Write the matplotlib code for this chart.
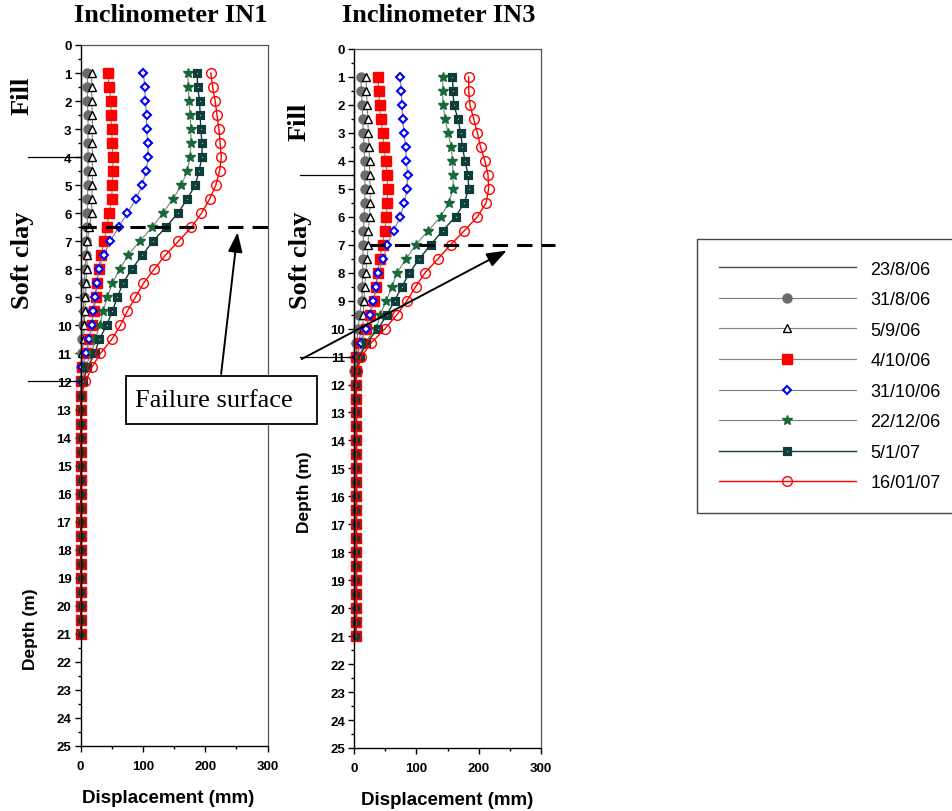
import matplotlib.pyplot as plt
from matplotlib.patches import Rectangle

W, H = 952, 812

plt.rcParams['font.family'] = ['Liberation Sans', 'DejaVu Sans']

dates = ['23/8/06', '31/8/06', '5/9/06', '4/10/06', '31/10/06', '22/12/06', '5/1/07', '16/01/07']

# reading depths (m)
depth = [1.0, 1.5, 2.0, 2.5, 3.0, 3.5, 4.0, 4.5, 5.0, 5.5, 6.0, 6.5, 7.0, 7.5, 8.0, 8.5,
         9.0, 9.5, 10.0, 10.5, 11.0, 11.5, 12.0, 12.5, 13.0, 13.5, 14.0, 14.5, 15.0, 15.5,
         16.0, 16.5, 17.0, 17.5, 18.0, 18.5, 19.0, 19.5, 20.0, 20.5, 21.0]

# initial reading (zero reference)
base_depth = [1, 21]
base_disp = [0, 0]

# IN1 displacements (mm)
in1_d2 = [11, 11, 11, 12, 12, 12, 12, 12, 12, 11, 11, 11, 9, 9, 7, 6, 5, 5, 4, 3, 2, 1, 0.5,
          0.5, 0.5, 0.5, 0.5, 0.5, 0.5, 0.5, 0.5, 0.5, 0.5, 0.5, 0.5, 0.5, 0.5, 0.5, 0.5, 0.5, 0.5]
in1_d3 = [18, 18, 18, 19, 19, 19, 19, 19, 19, 18, 18, 14, 11, 11, 10, 9, 8, 7, 6, 5, 3, 2, 0.5,
          0.5, 0.5, 0.5, 0.5, 0.5, 0.5, 0.5, 0.5, 0.5, 0.5, 0.5, 0.5, 0.5, 0.5, 0.5, 0.5, 0.5, 0.5]
in1_d4 = [44, 46, 49, 49, 50, 51, 52, 52, 51, 50, 46, 42, 38, 33, 29, 26, 25, 21, 18, 14, 8.5, 3, 0.5,
          0.5, 0.5, 0.5, 0.5, 0.5, 0.5, 0.5, 0.5, 0.5, 0.5, 0.5, 0.5, 0.5, 0.5, 0.5, 0.5, 0.5, 0.5]
in1_d5 = [101, 103, 104, 106, 106, 108, 109, 105, 99, 89, 75, 61, 48, 37, 29, 26, 23, 20, 18, 14, 9.6, 3, 0.5,
          0.5, 0.5, 0.5, 0.5, 0.5, 0.5, 0.5, 0.5, 0.5, 0.5, 0.5, 0.5, 0.5, 0.5, 0.5, 0.5, 0.5, 0.5]
in1_d6 = [172, 173, 174, 176, 177, 177, 176, 171, 162, 148, 132, 115, 95, 76, 63, 51, 43, 36, 31, 23, 18, 7, 3,
          0.5, 0.5, 0.5, 0.5, 0.5, 0.5, 0.5, 0.5, 0.5, 0.5, 0.5, 0.5, 0.5, 0.5, 0.5, 0.5, 0.5, 0.5]
in1_d7 = [187, 188, 191, 192, 193, 195, 195, 190, 184, 171, 156, 137, 116, 99, 82, 68, 59, 51, 42, 30, 23, 11, 4,
          0.5, 0.5, 0.5, 0.5, 0.5, 0.5, 0.5, 0.5, 0.5, 0.5, 0.5, 0.5, 0.5, 0.5, 0.5, 0.5, 0.5, 0.5]
in1_d8 = [209, 212, 216, 219, 222, 224, 226, 223, 217, 207, 194, 178, 157, 136, 118, 101, 88, 75, 64, 50, 32, 18, 8,
          1, 0.5, 0.5, 0.5, 0.5, 0.5, 0.5, 0.5, 0.5, 0.5, 0.5, 0.5, 0.5, 0.5, 0.5, 0.5, 0.5, 0.5]

# IN3 displacements (mm)
in3_d2 = [11, 12, 13, 14, 15, 16, 17, 17, 18, 17, 16, 15, 15, 14, 14, 13, 13, 8.5, 7, 4, 1.6, 0,
          2, 3, 3, 3, 3, 3, 3, 3, 3, 3, 3, 3, 3, 3, 3, 3, 3, 3, 3]
in3_d3 = [19, 20, 21, 22, 23, 24, 25, 25, 26, 26, 25, 23, 23, 21, 19, 17, 16, 15, 14, 6, 3, 1.6,
          3, 3, 3, 3, 3, 3, 3, 3, 3, 3, 3, 3, 3, 3, 3, 3, 3, 3, 3]
in3_d4 = [38, 40, 41, 43, 46, 48, 51, 53, 54, 53, 52, 49, 46, 41, 38, 35, 32, 25, 19, 9.5, 4, 4,
          3, 4, 4, 4, 4, 4, 4, 4, 4, 4, 4, 4, 4, 4, 4, 4, 4, 4, 3]
in3_d5 = [74, 76, 77, 78, 80, 83, 84, 86, 85, 81, 74, 64, 53, 47, 39, 35, 31, 25, 19, 11, 5, 3,
          3, 4, 4, 4, 4, 4, 4, 4, 4, 4, 4, 4, 4, 4, 4, 4, 4, 4, 3]
in3_d6 = [143, 142, 143, 146, 151, 156, 158, 159, 159, 152, 139, 119, 99, 84, 69, 61, 52, 42, 36, 17, 8, 4,
          3, 4, 4, 4, 4, 4, 4, 4, 4, 4, 4, 4, 4, 4, 4, 4, 4, 4, 3]
in3_d7 = [158, 159, 160, 167, 171, 174, 178, 183, 184, 177, 163, 142, 123, 105, 89, 77, 65, 53, 39, 20, 9.5, 4,
          3, 4, 4, 4, 4, 4, 4, 4, 4, 4, 4, 4, 4, 4, 4, 4, 4, 4, 3]
in3_d8 = [184, 184, 186, 192, 198, 203, 210, 215, 216, 212, 198, 177, 155, 135, 114, 99, 85, 69, 50, 28, 12, 5,
          3, 4, 4, 4, 4, 4, 4, 4, 4, 4, 4, 4, 4, 4, 4, 4, 4, 4, 3]

in1_series = [in1_d2, in1_d3, in1_d4, in1_d5, in1_d6, in1_d7, in1_d8]
in3_series = [in3_d2, in3_d3, in3_d4, in3_d5, in3_d6, in3_d7, in3_d8]

# layer boundaries and failure surfaces (m)
in1_bounds = [4, 12]
in3_bounds = [4.5, 11]
in1_fail = 6.5
in3_fail = 7

gray = '#7f7f7f'
teal = '#0f3d3a'
styles = [
    dict(color=gray, lw=0.8, marker='o', ms=6.5, mfc='#6b6b6b', mec='#6b6b6b'),
    dict(color=gray, lw=0.8, marker='^', ms=5.5, mfc='white', mec='black', mew=1),
    dict(color=gray, lw=0.8, marker='s', ms=6.5, mfc='red', mec='red'),
    dict(color=gray, lw=0.8, marker='D', ms=4.5, mfc='white', mec='blue', mew=1.5),
    dict(color=gray, lw=0.8, marker='*', ms=7.5, mfc='#17693a', mec='#17693a'),
    dict(color=teal, lw=1.0, marker='s', ms=3.6, mfc='white', mec=teal, mew=3.0),
    dict(color='red', lw=1.0, marker='o', ms=7, mfc='none', mec='red', mew=1),
]


def fig_pos(x0, y0, x1, y1):
    return [x0 / W, 1 - y1 / H, (x1 - x0) / W, (y1 - y0) / H]


def setup_axes(ax):
    ax.set_xlim(0, 300)
    ax.set_ylim(25, 0)
    ax.set_xticks([0, 100, 200, 300])
    ax.set_xticks([50, 150, 250], minor=True)
    ax.set_yticks(range(26))
    ax.set_yticks([i + 0.5 for i in range(25)], minor=True)
    ax.tick_params(which='major', direction='out', length=4, width=1, labelsize=9.5)
    ax.tick_params(which='minor', direction='out', length=2.5, width=1)
    ax.tick_params(axis='x', pad=6)
    ax.tick_params(axis='y', pad=2.5)
    ax.tick_params(top=False, right=False)
    for lab in ax.get_xticklabels() + ax.get_yticklabels():
        lab.set_fontweight('bold')
    for s in ['top', 'right']:
        ax.spines[s].set_color('#555555')
        ax.spines[s].set_linewidth(0.9)
    for s in ['left', 'bottom']:
        ax.spines[s].set_linewidth(1.0)


def draw_profile(ax, series):
    handles = []
    h, = ax.plot(base_disp, base_depth, color='#4d4d4d', lw=1.0, clip_on=False)
    handles.append(h)
    for vals, st in zip(series, styles):
        h, = ax.plot(vals, depth, clip_on=False, **st)
        handles.append(h)
    return handles


fig = plt.figure(figsize=(W / 100, H / 100), dpi=100)
ax1 = fig.add_axes(fig_pos(80.5, 46, 267.5, 747))
ax3 = fig.add_axes(fig_pos(354, 50, 541, 749))

handles = draw_profile(ax1, in1_series)
draw_profile(ax3, in3_series)
setup_axes(ax1)
setup_axes(ax3)

# failure surfaces
ax1.plot([0, 300], [in1_fail, in1_fail], color='black', lw=2.2, ls=(0, (5, 3)), clip_on=False, zorder=5)
ax3.plot([26, 322], [in3_fail, in3_fail], color='black', lw=2.2, ls=(0, (5, 3)), clip_on=False, zorder=5)

# layer boundary marks left of the axes
for b in in1_bounds:
    ax1.plot([-0.28, 0], [b, b], color='black', lw=0.9, transform=ax1.get_yaxis_transform(), clip_on=False)
for b in in3_bounds:
    ax3.plot([-0.29, 0], [b, b], color='black', lw=0.9, transform=ax3.get_yaxis_transform(), clip_on=False)

arrow = dict(arrowstyle='-|>,head_length=0.6,head_width=0.22', color='black', lw=1.4,
             mutation_scale=20, shrinkA=0, shrinkB=0)
ax1.annotate('', xy=(252, 6.68), xytext=(225.6, 11.73), arrowprops=arrow, annotation_clip=False)
ax3.annotate('', xy=(245, 7.21), xytext=(-84, 11.09), arrowprops=arrow, annotation_clip=False)

# failure surface label box
fig.patches.append(Rectangle((126 / W, 1 - 425 / H), 191 / W, 48 / H, transform=fig.transFigure,
                             fc='white', ec='black', lw=1.3, zorder=10))
fig.text(214 / W, 1 - 401 / H, 'Failure surface', family='Liberation Serif', size=19,
         ha='center', va='center', zorder=11)

# titles
serif_b = dict(family='Liberation Serif', weight='bold', ha='center', va='center')
fig.text(171 / W, 1 - 16 / H, 'Inclinometer IN1', size=19, **serif_b)
fig.text(439 / W, 1 - 16 / H, 'Inclinometer IN3', size=19, **serif_b)

# layer names
fig.text(22 / W, 1 - 96 / H, 'Fill', size=19, rotation=90, **serif_b)
fig.text(23 / W, 1 - 260 / H, 'Soft clay', size=19, rotation=90, **serif_b)
fig.text(299 / W, 1 - 122 / H, 'Fill', size=19, rotation=90, **serif_b)
fig.text(301 / W, 1 - 260 / H, 'Soft clay', size=19, rotation=90, **serif_b)

# axis labels
fig.text(30 / W, 1 - 629 / H, 'Depth (m)', rotation=90, weight='bold', ha='center', va='center', size=12.5)
fig.text(305 / W, 1 - 492 / H, 'Depth (m)', rotation=90, weight='bold', ha='center', va='center', size=12.5)
fig.text(168 / W, 1 - 799 / H, 'Displacement (mm)', weight='bold', ha='center', va='center', size=13.5)
fig.text(447 / W, 1 - 801 / H, 'Displacement (mm)', weight='bold', ha='center', va='center', size=13.5)

leg = fig.legend(handles, dates, loc='upper left', bbox_to_anchor=(697 / W, 1 - 240 / H),
                 borderaxespad=0, fancybox=False, edgecolor='#444444', framealpha=1,
                 fontsize=13, handlelength=7.6, handletextpad=0.8, borderpad=1.2,
                 labelspacing=0.75, numpoints=1)
leg.get_frame().set_linewidth(1.0)

fig.savefig('out.png', dpi=100)
